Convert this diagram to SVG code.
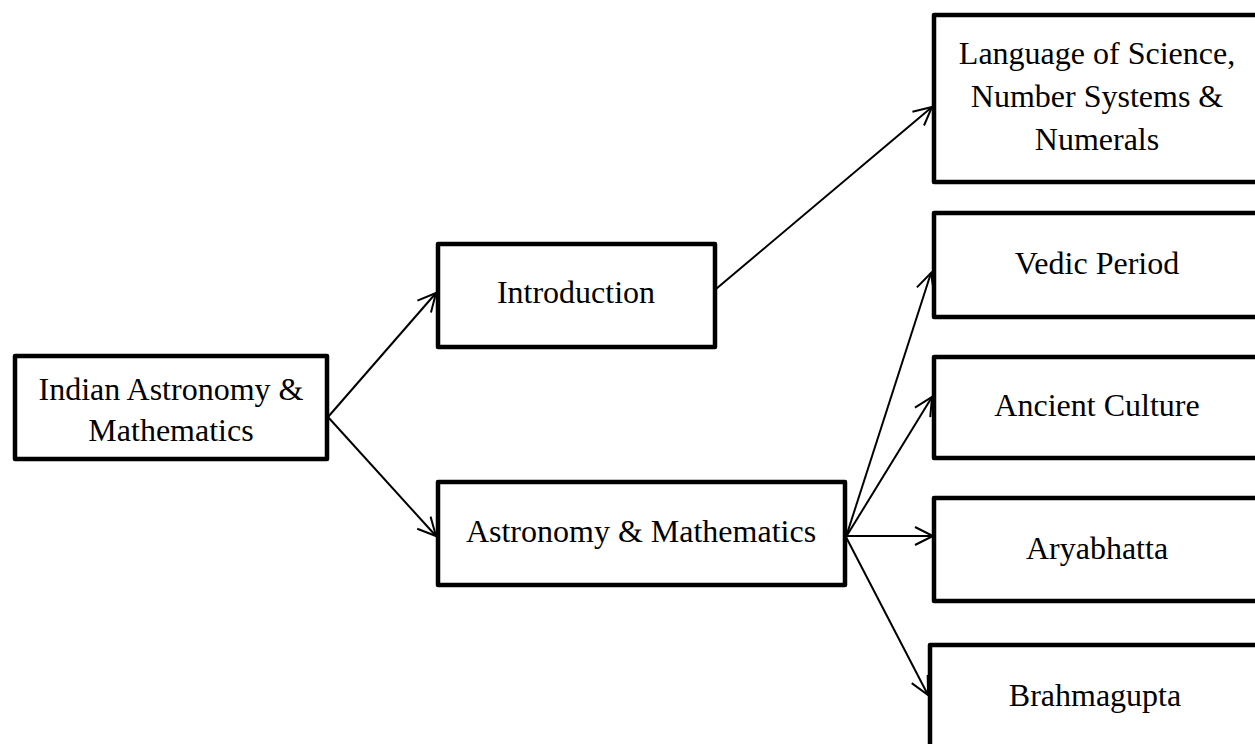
<svg xmlns="http://www.w3.org/2000/svg" width="1255" height="744" viewBox="0 0 1255 744">
  <style>
    .box { fill: #ffffff; stroke: #000000; stroke-width: 4.5; stroke-linejoin: round; }
    .label { font-family: "Liberation Serif", "Times New Roman", serif; font-size: 32px; fill: #000000; text-anchor: middle; }
    .edge { fill: none; stroke: #000000; stroke-width: 2; }
  </style>
  <defs>
    <marker id="open-arrow" markerUnits="userSpaceOnUse" markerWidth="24" markerHeight="24" viewBox="-20 -12 22 24" refX="0" refY="0" orient="auto" overflow="visible">
      <path d="M-18,-9 L0,0 L-18,9" fill="none" stroke="#000000" stroke-width="2" stroke-linejoin="miter"/>
    </marker>
  </defs>
  <rect width="1255" height="744" fill="#ffffff"/>

  <g id="connectors">
    <line class="edge" x1="328" y1="417" x2="436" y2="293" marker-end="url(#open-arrow)"/>
    <line class="edge" x1="328" y1="417" x2="436" y2="536" marker-end="url(#open-arrow)"/>
    <line class="edge" x1="716" y1="289" x2="932" y2="107" marker-end="url(#open-arrow)"/>
    <line class="edge" x1="846" y1="537" x2="931" y2="273" marker-end="url(#open-arrow)"/>
    <line class="edge" x1="846" y1="537" x2="932" y2="397" marker-end="url(#open-arrow)"/>
    <line class="edge" x1="846" y1="536" x2="933" y2="536" marker-end="url(#open-arrow)"/>
    <line class="edge" x1="846" y1="537" x2="928" y2="695" marker-end="url(#open-arrow)"/>
  </g>

  <g id="node-root">
    <rect class="box" x="15" y="356" width="312" height="103"/>
    <text class="label" x="171" y="400">Indian Astronomy &amp;</text>
    <text class="label" x="171" y="441">Mathematics</text>
  </g>

  <g id="node-introduction">
    <rect class="box" x="438" y="244" width="277" height="103"/>
    <text class="label" x="576" y="303">Introduction</text>
  </g>

  <g id="node-astronomy-mathematics">
    <rect class="box" x="438" y="482" width="407" height="103"/>
    <text class="label" x="641" y="542">Astronomy &amp; Mathematics</text>
  </g>

  <g id="node-language">
    <rect class="box" x="934" y="15" width="326" height="167"/>
    <text class="label" x="1097" y="64">Language of Science,</text>
    <text class="label" x="1097" y="107">Number Systems &amp;</text>
    <text class="label" x="1097" y="150">Numerals</text>
  </g>

  <g id="node-vedic">
    <rect class="box" x="934" y="213" width="326" height="104"/>
    <text class="label" x="1097" y="274">Vedic Period</text>
  </g>

  <g id="node-ancient">
    <rect class="box" x="934" y="357" width="326" height="101"/>
    <text class="label" x="1097" y="416">Ancient Culture</text>
  </g>

  <g id="node-aryabhatta">
    <rect class="box" x="934" y="498" width="326" height="103"/>
    <text class="label" x="1097" y="559">Aryabhatta</text>
  </g>

  <g id="node-brahmagupta">
    <rect class="box" x="930" y="645" width="330" height="110"/>
    <text class="label" x="1095" y="706">Brahmagupta</text>
  </g>
</svg>
